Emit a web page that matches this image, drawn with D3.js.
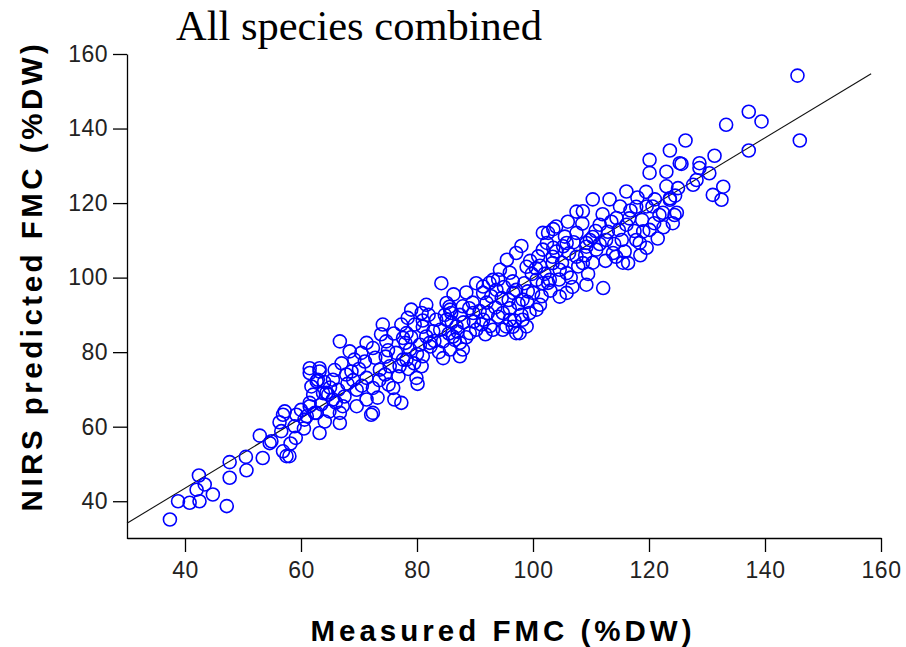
<!DOCTYPE html>
<html>
<head>
<meta charset="utf-8">
<script src="https://cdn.jsdelivr.net/npm/d3@7"></script>
<style>
  body { margin: 0; background: #fff; }
  svg { display: block; }
</style>
</head>
<body>
<div id="chart"></div>
<script>
// measured FMC (x) and NIRS predicted FMC (y)
const measured = [
  37.4, 38.8, 40.8, 42.5, 42.0, 42.4, 43.4, 44.8, 47.2, 47.7,
  47.7, 50.5, 50.6, 53.4, 52.9, 54.9, 56.3, 57.2, 57.5, 56.9,
  59.1, 58.9, 59.2, 60.6, 61.5, 63.2, 62.7, 63.8, 62.7, 61.5,
  63.2, 56.9, 56.6, 54.6, 58.0, 61.5, 63.2, 62.9, 65.5, 62.1,
  64.4, 66.4, 62.4, 64.1, 66.7, 66.7, 68.4, 70.4, 68.7, 71.3,
  67.8, 67.5, 71.3, 72.1, 69.6, 72.4, 72.4, 74.7, 74.1, 73.6,
  75.3, 75.9, 77.3, 77.0, 76.4, 77.6, 77.3, 79.6, 78.8, 79.9,
  80.8, 81.6, 82.8, 80.8, 81.6, 84.5, 84.5, 85.9, 86.5, 87.4,
  87.9, 83.3, 64.9, 66.7, 72.4, 64.7, 77.6, 80.1, 78.4, 87.4,
  85.7, 89.7, 91.4, 93.1, 94.8, 96.0, 97.1, 98.9, 91.4, 93.7,
  96.6, 100.0, 101.7, 90.2, 84.2, 82.2, 85.1, 86.2, 89.1, 91.1,
  91.4, 93.1, 94.6, 95.4, 96.0, 97.7, 97.1, 99.1, 100.6, 99.4,
  97.1, 100.9, 104.0, 105.8, 104.6, 108.6, 109.2, 105.8, 109.8, 102.6,
  94.8, 81.0, 85.6, 87.4, 90.2, 89.6, 92.0, 96.5, 98.2, 100.6,
  102.9, 103.4, 98.9, 96.0, 94.3, 92.5, 95.5, 101.7, 107.5, 109.2,
  110.3, 110.3, 105.8, 106.8, 112.1, 104.0, 107.5, 111.5, 112.9, 114.4,
  116.1, 115.0, 116.4, 113.8, 118.4, 119.0, 119.6, 121.8, 124.1, 123.6,
  123.0, 125.3, 120.1, 128.7, 127.6, 101.7, 105.2, 110.9, 103.4, 102.4,
  107.5, 109.2, 112.6, 114.3, 117.8, 117.8, 120.1, 119.6, 122.4, 124.8,
  128.2, 120.1, 116.6, 113.2, 110.3, 108.6, 115.3, 116.1, 145.6, 146.0,
  137.2, 139.4, 133.3, 137.2, 126.3, 123.6, 131.3, 125.6, 128.7, 130.4,
  132.8, 131.0, 132.5, 125.0, 123.6, 124.4, 120.9, 120.6, 79.0, 85.1,
  86.8, 78.2, 82.3, 85.7, 87.9, 81.0, 78.2, 61.5, 65.5, 67.2,
  69.6, 69.2, 71.3, 74.6, 75.1, 73.2, 76.1, 101.2, 102.6, 104.6,
  98.2, 101.2,
  60.0, 61.0, 63.5, 65.0, 66.0, 68.0, 69.0, 70.0, 70.5, 67.0,
  64.0, 65.8, 60.5, 58.2, 61.8, 71.0, 72.8, 73.5, 74.5, 75.0,
  76.0, 76.8, 78.0, 78.5, 79.0, 80.0, 80.5, 81.0, 79.5, 73.8,
  82.0, 83.0, 84.0, 84.8, 86.0, 87.0, 88.0, 88.5, 89.0, 89.8,
  86.3, 88.5, 83.8, 85.5, 90.8, 91.8, 92.2, 92.8, 93.5, 94.0,
  95.0, 95.8, 96.5, 97.5, 98.0, 98.5, 99.0, 99.8, 94.0, 92.6,
  96.8, 99.5, 98.0, 100.5, 101.5, 102.0, 103.0, 103.5, 104.5, 105.0,
  105.5, 106.2, 106.5, 107.0, 107.8, 108.5, 109.0, 109.5, 103.5, 106.0,
  110.8, 111.5, 112.0, 112.5, 113.5, 114.0, 114.8, 115.8, 116.8, 117.5,
  118.5, 118.8, 119.5, 121.0, 121.5, 122.5, 123.0, 124.5, 115.5, 118.0
]
const predicted = [
  35.1, 40.0, 39.6, 40.0, 43.1, 46.9, 44.5, 41.8, 38.7, 46.3,
  50.5, 51.9, 48.3, 51.6, 57.6, 56.1, 61.2, 64.1, 52.1, 53.4,
  57.0, 60.1, 63.2, 61.9, 66.4, 58.3, 63.7, 69.0, 72.2, 74.4,
  74.8, 63.2, 58.8, 55.6, 52.1, 75.7, 75.7, 72.6, 72.6, 68.6,
  69.1, 69.9, 63.7, 61.4, 63.7, 82.9, 80.2, 79.8, 74.8, 73.1,
  74.0, 68.1, 67.3, 63.2, 69.9, 70.4, 81.1, 82.9, 87.4, 75.3,
  76.2, 70.4, 66.4, 76.2, 79.8, 83.8, 87.4, 87.4, 80.7, 73.1,
  76.2, 84.2, 85.6, 90.5, 92.7, 78.4, 82.9, 90.5, 83.3, 90.0,
  92.3, 88.7, 64.1, 61.0, 63.7, 68.6, 78.0, 71.5, 89.2, 78.9,
  91.4, 90.5, 88.7, 86.0, 86.0, 88.7, 85.1, 86.9, 95.9, 96.7,
  95.9, 95.9, 98.5, 98.5, 98.5, 82.5, 88.7, 84.2, 85.1, 87.4,
  97.6, 99.4, 94.5, 86.9, 91.8, 85.1, 96.7, 96.3, 99.4, 90.5,
  106.6, 105.7, 107.0, 101.2, 94.9, 103.9, 98.1, 109.3, 110.1, 112.0,
  90.5, 86.8, 92.2, 82.5, 86.0, 93.3, 93.3, 86.8, 88.7, 91.4,
  99.4, 103.9, 102.9, 101.3, 102.1, 98.6, 104.8, 107.5, 105.6, 108.3,
  104.0, 110.9, 95.9, 97.5, 97.2, 113.7, 117.7, 114.2, 112.3, 116.0,
  123.1, 119.1, 103.9, 106.6, 109.3, 112.4, 119.1, 116.8, 114.6, 120.9,
  128.4, 130.7, 131.6, 130.7, 124.9, 112.0, 108.4, 107.5, 105.6, 109.3,
  112.0, 109.3, 110.1, 105.6, 119.0, 110.1, 112.8, 108.0, 117.4, 117.4,
  126.2, 128.1, 115.9, 121.0, 121.0, 117.8, 110.1, 114.2, 154.2, 136.8,
  144.5, 141.9, 141.0, 134.1, 136.8, 134.1, 132.7, 130.5, 129.4, 128.0,
  124.4, 122.2, 120.9, 124.0, 121.3, 116.8, 114.6, 119.1, 91.4, 93.2,
  86.9, 85.1, 81.5, 80.7, 80.7, 78.9, 78.0, 65.5, 67.3, 65.5,
  65.5, 78.0, 82.5, 78.8, 71.3, 67.8, 67.3, 103.2, 98.6, 102.1,
  94.1, 92.7,
  64.5, 62.8, 66.0, 70.5, 66.5, 71.5, 72.5, 75.5, 71.0, 77.0,
  72.0, 75.2, 59.5, 55.5, 70.8, 77.5, 78.5, 72.5, 74.0, 80.5,
  85.0, 73.5, 82.5, 75.5, 84.0, 79.5, 82.0, 88.5, 77.0, 84.8,
  90.0, 83.0, 86.0, 90.0, 88.0, 85.5, 88.0, 84.0, 91.8, 88.2,
  95.5, 96.0, 80.0, 85.0, 91.0, 84.8, 90.5, 95.0, 92.0, 89.5,
  97.5, 94.0, 99.0, 93.0, 90.0, 98.5, 93.5, 101.0, 99.5, 87.0,
  88.5, 104.5, 108.5, 102.5, 95.0, 101.0, 96.5, 108.0, 99.5, 104.0,
  111.0, 106.5, 100.0, 109.5, 103.0, 114.5, 106.0, 101.0, 113.0, 115.0,
  112.5, 109.0, 117.0, 104.5, 115.0, 109.0, 112.8, 107.0, 118.0, 112.5,
  106.0, 115.5, 123.0, 121.0, 110.5, 113.5, 124.5, 122.0, 104.0, 121.5
]
// end points of the fitted line
const fitX = [30, 158.3]
const fitY = [34.1, 154.7]
const tickValues = [40, 60, 80, 100, 120, 140, 160]

const width = 906, height = 647
const svg = d3.select("#chart").append("svg")
              .attr("width", width)
              .attr("height", height)

const xScale = d3.scaleLinear().domain([30, 160]).range([127, 881])
const yScale = d3.scaleLinear().domain([30, 160]).range([538.5, 54])

const axisFont = "'Liberation Sans', Arial, sans-serif"

const xAxis = d3.axisBottom(xScale)
                .tickValues(tickValues)
                .tickSize(14)
                .tickSizeOuter(0)
                .tickPadding(10)
const yAxis = d3.axisLeft(yScale)
                .tickValues(tickValues)
                .tickSize(14)
                .tickSizeOuter(0)
                .tickPadding(5)

const gx = svg.append("g")
   .attr("transform", "translate(0," + 538 + ")")
   .call(xAxis)
const gy = svg.append("g")
   .attr("transform", "translate(" + 127 + ",0)")
   .call(yAxis)

;[gx, gy].forEach(g => {
  g.selectAll("path, line").attr("stroke", "#000").attr("stroke-width", 1.3)
  g.selectAll("text")
   .attr("fill", "#222")
   .style("font-family", axisFont)
   .style("font-size", "23px")
   .style("letter-spacing", "0.5px")
})

// regression line
svg.append("path")
   .datum(fitX.map((d, i) => [d, fitY[i]]))
   .attr("fill", "none")
   .attr("stroke", "#111")
   .attr("stroke-width", 1.1)
   .attr("d", d3.line().x(d => xScale(d[0])).y(d => yScale(d[1])))

// points
svg.append("g")
   .selectAll("circle")
   .data(measured.map((d, i) => ({x: d, y: predicted[i]})))
   .join("circle")
   .attr("cx", d => xScale(d.x))
   .attr("cy", d => yScale(d.y))
   .attr("r", 6.5)
   .attr("fill", "none")
   .attr("stroke", "#0000ff")
   .attr("stroke-width", 1.6)

// titles
svg.append("text")
   .attr("x", 176)
   .attr("y", 40)
   .style("font-family", "'Liberation Serif', 'Times New Roman', serif")
   .style("font-size", "42.5px")
   .text("All species combined")

svg.append("text")
   .attr("x", 503)
   .attr("y", 641)
   .attr("text-anchor", "middle")
   .style("font-family", axisFont)
   .style("font-weight", "bold")
   .style("font-size", "29.5px")
   .style("letter-spacing", "4px")
   .text("Measured FMC (%DW)")

svg.append("text")
   .attr("transform", "translate(42,276) rotate(-90)")
   .attr("text-anchor", "middle")
   .style("font-family", axisFont)
   .style("font-weight", "bold")
   .style("font-size", "29.5px")
   .style("letter-spacing", "3.5px")
   .text("NIRS predicted FMC (%DW)")
</script>
</body>
</html>
